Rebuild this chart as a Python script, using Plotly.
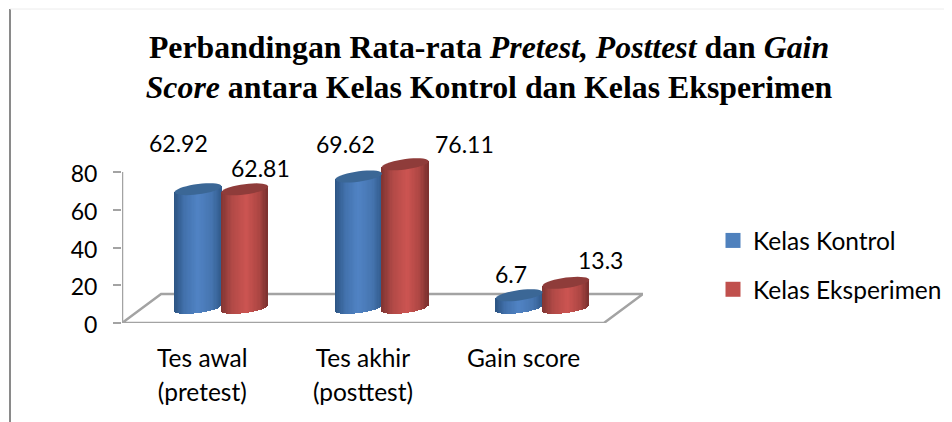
import math
import plotly.graph_objects as go

categories = ["Tes awal<br>(pretest)", "Tes akhir<br>(posttest)", "Gain score"]
series_names = ["Kelas Kontrol", "Kelas Eksperimen"]
kontrol = [62.92, 69.62, 6.7]
eksperimen = [62.81, 76.11, 13.3]
y_ticks = [0, 20, 40, 60, 80]

PAGE = 8                             # the page's body margin
W, H = 952 - PAGE, 422 - PAGE
L, R, T, B = 122, 643, 153, 323      # plot box in picture pixels
PX_X = 160.3                         # pixels per category
PX_Y = 1.8875                        # pixels per value unit
DEPTH_X = 39 / PX_X                  # floor depth in x units
DEPTH_Y = 29 / PX_Y                  # floor depth in y units
BASE = 8.0                           # cylinder base height above the front edge
BAR_W = 46.5 / PX_X
SHIFT = 19 / PX_X
H_Y, TILT_Y = 5.2 / PX_Y, 3.0 / PX_Y
N = 36
GREY = "#a3a3a3"

blue_stops = [(0, (44, 84, 130)), (.22, (66, 113, 172)), (.5, (80, 131, 196)), (.8, (70, 117, 176)), (1, (50, 92, 142))]
red_stops = [(0, (128, 52, 50)), (.25, (178, 74, 71)), (.55, (204, 84, 81)), (.82, (172, 70, 67)), (1, (122, 48, 46))]
top_colors = ["#3b6796", "#8f3c3a"]
legend_colors = ["#4f81bd", "#c0504d"]


def shade(stops, t):
    for (a, ca), (b, cb) in zip(stops, stops[1:]):
        if t <= b:
            f = (t - a) / (b - a)
            return "rgb(%d,%d,%d)" % tuple(round(p + (q - p) * f) for p, q in zip(ca, cb))
    return "rgb(%d,%d,%d)" % stops[-1][1]


def cylinder(values, side, stops, name):
    xs, bases, heights, colors, widths = [], [], [], [], []
    for i, v in enumerate(values):
        c = i + SHIFT + side * BAR_W / 2
        for k in range(N):
            u = -1 + (2 * k + 1) / N
            xs.append(c + u * BAR_W / 2)
            low = BASE + TILT_Y * u - H_Y * math.sqrt(1 - u * u)
            top = BASE + v + TILT_Y * u
            bases.append(low)
            heights.append(top - low)
            colors.append(shade(stops, (u + 1) / 2))
            widths.append(BAR_W / N * 1.25)
    return go.Bar(x=xs, y=heights, base=bases, width=widths, name=name,
                  marker=dict(color=colors, line=dict(width=0)), showlegend=False,
                  hoverinfo="skip")


def top_ellipse(value, centre, color):
    pts = []
    for a in range(0, 360, 10):
        r = math.radians(a)
        u = math.cos(r)
        pts.append((centre + u * BAR_W / 2, BASE + value + TILT_Y * u + H_Y * math.sin(r)))
    path = "M " + " L ".join(f"{x:.4f},{y:.4f}" for x, y in pts) + " Z"
    return dict(type="path", path=path, xref="x", yref="y", fillcolor=color, line=dict(width=0), layer="above")


def px_x(p):
    return (p - L) / (R - L)


def px_y(p):
    return (B - p) / (B - T)


fig = go.Figure()
fig.add_trace(cylinder(kontrol, -1, blue_stops, series_names[0]))
fig.add_trace(cylinder(eksperimen, 1, red_stops, series_names[1]))
for name, col in zip(series_names, legend_colors):
    fig.add_trace(go.Scatter(x=[None], y=[None], mode="markers", name=name, legendgroup=name,
                             marker=dict(symbol="square", size=15, color=col)))

x0, x1 = -0.5, 2.5
shapes = []
floor = f"M {x0},0 L {x1},0 L {x1 + DEPTH_X},{DEPTH_Y} L {x0 + DEPTH_X},{DEPTH_Y} Z"
shapes.append(dict(type="path", path=floor, xref="x", yref="y", line=dict(color=GREY, width=2.5), layer="below"))
shapes.append(dict(type="line", x0=x0, x1=x0, y0=0, y1=80, xref="x", yref="y",
                   line=dict(color=GREY, width=2.5), layer="below"))
for i, (a, b) in enumerate(zip(kontrol, eksperimen)):
    shapes.append(top_ellipse(a, i + SHIFT - BAR_W / 2, top_colors[0]))
    shapes.append(top_ellipse(b, i + SHIFT + BAR_W / 2, top_colors[1]))
shapes.append(dict(type="line", xref="paper", yref="paper", x0=px_x(10), x1=px_x(10), y0=px_y(9), y1=px_y(422),
                   line=dict(color="#8a8a8a", width=2)))
shapes.append(dict(type="line", xref="paper", yref="paper", x0=px_x(10), x1=px_x(952), y0=px_y(9), y1=px_y(9),
                   line=dict(color="#ececec", width=1)))

# value labels: each hangs from its bar top, with a hand-placed offset as in the original
label_dx = [-20, 16, -13, 59, -8, 35]
label_dy = [46, 21, 32, 20, 21, 23]
annotations = []
for i, (a, b) in enumerate(zip(kontrol, eksperimen)):
    for j, v in enumerate((a, b)):
        annotations.append(dict(x=i + SHIFT + (j * 2 - 1) * BAR_W / 2, y=BASE + v, xref="x", yref="y",
                                text=str(v), showarrow=False,
                                xshift=label_dx[i * 2 + j], yshift=label_dy[i * 2 + j],
                                font=dict(family="Lato", size=23, color="#000")))

fig.update_layout(
    width=W, height=H, barmode="overlay", bargap=0, plot_bgcolor="rgba(0,0,0,0)", paper_bgcolor="white",
    margin=dict(l=L - PAGE, r=W - (R - PAGE), t=T - PAGE, b=H - (B - PAGE), autoexpand=False),
    title=dict(
        text='<span style="font-size:31.8px"><b>Perbandingan Rata-rata <i>Pretest, Posttest</i> dan <i>Gain</i></b>'
             '<br><b><i>Score</i> antara Kelas Kontrol dan Kelas Eksperimen</b></span>',
        x=(489 - PAGE) / W, xanchor="center", y=1 - (58 - PAGE) / H, yanchor="top",
        font=dict(family="Liberation Serif", size=31, color="#000")),
    xaxis=dict(range=[x0, x1 + DEPTH_X], tickvals=[0, 1, 2],
               ticktext=[f'<span style="font-size:24.5px">{c}</span>' for c in categories],
               showgrid=False, zeroline=False, showline=False, ticks="", ticklen=0,
               ticklabelstandoff=17,
               tickfont=dict(family="Lato", size=26, color="#000")),
    yaxis=dict(range=[0, (B - T) / PX_Y], tickvals=y_ticks, showgrid=False, zeroline=False, showline=False,
               ticks="outside", ticklen=8, tickwidth=2, tickcolor=GREY,
               ticklabelstandoff=11, ticklabelshift=2,
               tickfont=dict(family="Lato", size=23, color="#000")),
    legend=dict(x=px_x(713), xanchor="left", y=px_y(218), yanchor="top", tracegroupgap=14,
                font=dict(family="Lato", size=24.5, color="#000"), bgcolor="rgba(0,0,0,0)"),
    shapes=shapes, annotations=annotations, showlegend=True,
)
fig.write_html("out.html")
